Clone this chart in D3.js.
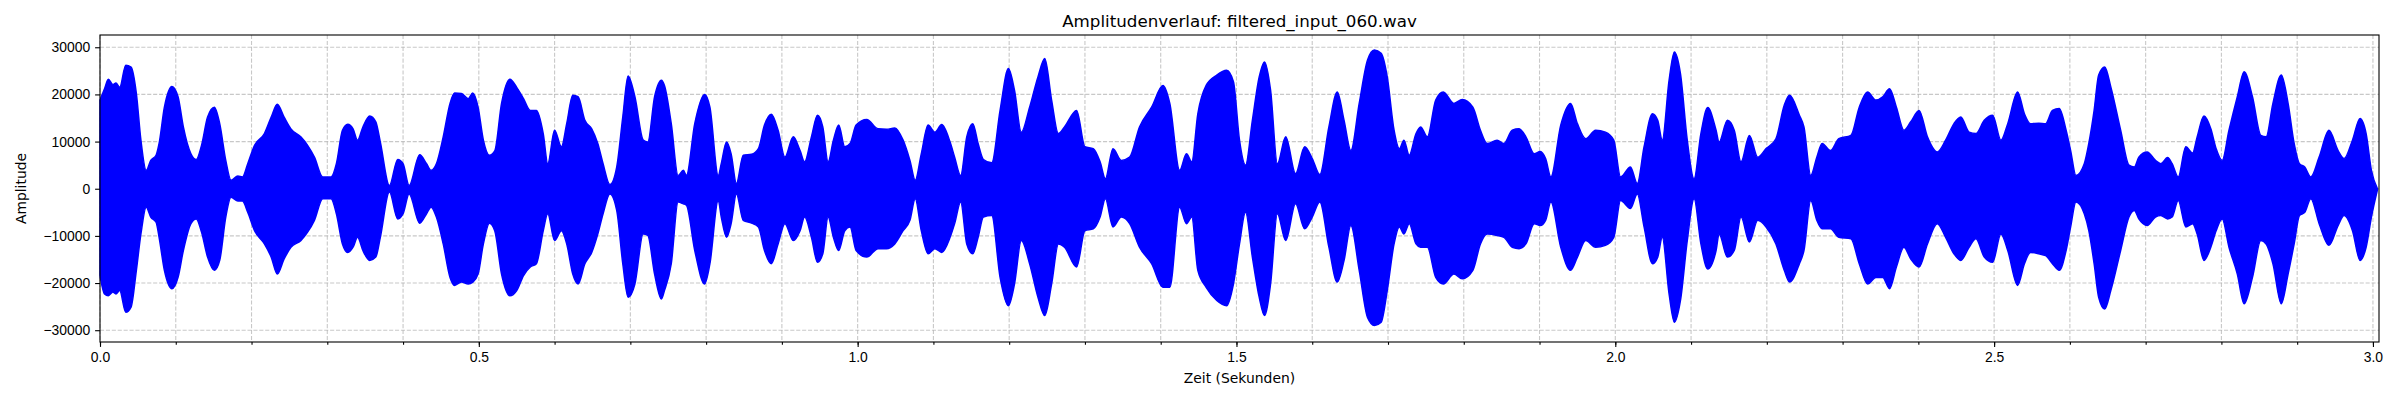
<!DOCTYPE html>
<html>
<head>
<meta charset="utf-8">
<script src="https://cdn.jsdelivr.net/npm/d3@7"></script>
<style>
  html, body { margin: 0; padding: 0; background: #fff; }
  svg { display: block; font-family: "DejaVu Sans", sans-serif; }
  .tick text { fill: #000; font-size: 13.9px; }
  .tick line, .domain { stroke: #000; stroke-width: 1.1px; }
</style>
</head>
<body>
<div id="chart"></div>
<script>
// envelope of the waveform (time in s, amplitude)
const timeSec = [
  0.000, 0.006, 0.011, 0.017, 0.021, 0.026, 0.034, 0.041, 0.048, 0.054, 0.061, 0.067, 0.074, 0.078, 0.085, 0.095, 0.103, 0.110, 0.120, 0.127, 0.134, 0.142, 0.151, 0.158, 0.166, 0.173, 0.182, 0.188, 0.195, 0.204, 0.217, 0.226, 0.234, 0.243, 0.252, 0.265, 0.274, 0.283, 0.294, 0.305, 0.312, 0.320, 0.327, 0.334, 0.340, 0.347, 0.356, 0.364,
  0.370, 0.382, 0.393, 0.400, 0.408, 0.422, 0.431, 0.437, 0.444, 0.453, 0.462, 0.468, 0.477, 0.486, 0.492, 0.499, 0.506, 0.514, 0.521, 0.530, 0.541, 0.550, 0.559, 0.568, 0.576, 0.585, 0.591, 0.600, 0.609, 0.616, 0.624, 0.631, 0.640, 0.649, 0.657, 0.664, 0.673, 0.682, 0.690, 0.697, 0.706, 0.717, 0.723, 0.732, 0.741,
  0.745, 0.754, 0.763, 0.770, 0.774, 0.785, 0.798, 0.805, 0.816, 0.820, 0.827, 0.833, 0.840, 0.849, 0.860, 0.869, 0.877, 0.886, 0.895, 0.904, 0.915, 0.924, 0.930, 0.939, 0.947, 0.954, 0.961, 0.968, 0.975, 0.983, 0.990, 0.998, 1.012, 1.027, 1.038, 1.049, 1.060, 1.069, 1.076, 1.084, 1.093, 1.102, 1.111,
  1.122, 1.128, 1.136, 1.144, 1.152, 1.159, 1.166, 1.177, 1.188, 1.199, 1.207, 1.216, 1.227, 1.238, 1.247, 1.256, 1.265, 1.273, 1.289, 1.300, 1.311, 1.320, 1.327, 1.337, 1.348, 1.359, 1.372, 1.388, 1.403, 1.412, 1.425, 1.434, 1.441, 1.449, 1.460, 1.474, 1.487, 1.496,
  1.504, 1.512, 1.521, 1.530, 1.537, 1.545, 1.554, 1.565, 1.578, 1.590, 1.600, 1.610, 1.622, 1.633, 1.642, 1.651, 1.662, 1.673, 1.682, 1.691, 1.699, 1.708, 1.715, 1.721, 1.728, 1.737, 1.743, 1.752, 1.763, 1.773, 1.787, 1.798, 1.812, 1.822, 1.831, 1.844, 1.853, 1.864, 1.873,
  1.882, 1.893, 1.901, 1.908, 1.915, 1.928, 1.941, 1.950, 1.961, 1.974, 1.987, 1.998, 2.007, 2.020, 2.029, 2.038, 2.049, 2.056, 2.062, 2.071, 2.078, 2.086, 2.095, 2.104, 2.113, 2.122, 2.133, 2.137, 2.148, 2.157, 2.166, 2.177, 2.188, 2.199, 2.212, 2.223, 2.230, 2.243,
  2.249, 2.258, 2.266, 2.273, 2.284, 2.295, 2.311, 2.322, 2.333, 2.344, 2.353, 2.362, 2.371, 2.381, 2.390, 2.401, 2.412, 2.425, 2.436, 2.447, 2.456, 2.467, 2.476, 2.487, 2.498, 2.509, 2.518, 2.531, 2.540, 2.548, 2.559, 2.568, 2.577, 2.586, 2.595, 2.601, 2.608, 2.619,
  2.625, 2.632, 2.638, 2.646, 2.654, 2.667, 2.678, 2.685, 2.691, 2.702, 2.713, 2.720, 2.729, 2.735, 2.743, 2.753, 2.762, 2.768, 2.777, 2.786, 2.793, 2.801, 2.810, 2.821, 2.830, 2.841, 2.852, 2.859, 2.868, 2.879, 2.888, 2.896, 2.903, 2.910, 2.918, 2.929, 2.942, 2.954, 2.962, 2.973, 2.983, 2.991, 2.998, 3.006
];
const upperAmp = [
  18800, 21200, 23200, 22100, 22400, 21500, 26200, 25800, 20200, 10300, 3900, 6000, 7100, 9600, 17300, 21700, 19500, 13100, 7400, 6200, 9200, 15200, 17300, 13800, 6000, 1800, 2700, 2500, 5300, 9200, 11700, 15200, 17900, 15200, 12700, 11000, 9200, 6700, 2500, 2500, 5300, 12400, 13700, 12700, 10300, 13100, 15400, 14200,
  9900, 700, 6200, 5300, 700, 7200, 5300, 3900, 5300, 11000, 18100, 20300, 20200, 19100, 20300, 17300, 10300, 7100, 8000, 18100, 23200, 21500, 19100, 16600, 16600, 11700, 5300, 12400, 8900, 13800, 19800, 19500, 14500, 12700, 9600, 5300, 900, 4600, 15200, 23900, 19500, 10300, 9900, 19500, 23000,
  21900, 13800, 2800, 3900, 2800, 13800, 20000, 17300, 2800, 5300, 9900, 7400, 1100, 7100, 7300, 8500, 13500, 15800, 12400, 6700, 11000, 8100, 5700, 11000, 15600, 13100, 5700, 10300, 13500, 8900, 9600, 13500, 14700, 12700, 12600, 12900, 10300, 6000, 1800, 7400, 13500, 12000, 13600,
  9900, 6700, 2800, 11000, 13800, 9600, 6200, 5500, 16600, 25500, 20900, 12000, 17300, 23700, 27600, 18800, 11700, 13100, 16600, 8900, 8500, 5700, 2100, 8500, 6000, 6700, 13100, 17300, 21900, 18100, 3900, 7400, 5700, 15900, 21900, 24100, 25100, 22700,
  10300, 5000, 14500, 23700, 26900, 20900, 5300, 11000, 3200, 8900, 6400, 3000, 13100, 20500, 14500, 8100, 18100, 27300, 29400, 28700, 23700, 12400, 8500, 10300, 7100, 11700, 13100, 11000, 18800, 20500, 18100, 18900, 17300, 12400, 9600, 10300, 9600, 12400, 12700,
  11000, 7400, 7900, 6400, 2500, 13500, 18100, 13800, 10600, 12400, 12000, 10300, 2500, 4600, 1100, 8900, 15900, 14500, 10300, 23000, 29000, 24400, 10300, 2100, 11700, 17200, 12400, 9900, 14500, 12400, 5700, 11300, 6700, 8500, 10600, 17700, 19800, 15600,
  13100, 2800, 6700, 9600, 8100, 10600, 11300, 17300, 20500, 18800, 19500, 21200, 17300, 12400, 14200, 16600, 11000, 7800, 10300, 13800, 15200, 12000, 11700, 14500, 15600, 10300, 13800, 20500, 15900, 13800, 13900, 13800, 16600, 17000, 12400, 8100, 2800, 5300,
  9600, 16600, 24100, 25800, 21600, 12400, 5000, 4600, 6700, 7800, 6000, 5300, 6600, 5300, 2500, 8900, 7600, 11000, 15400, 12700, 8500, 6000, 12400, 19500, 24800, 19500, 11300, 11000, 18100, 24100, 18100, 9600, 5300, 4600, 2500, 6700, 12400, 8100, 6400, 10300, 14900, 11700, 3900, 0
];
const lowerAmp = [
  -18400, -22300, -22700, -21900, -22300, -21600, -26200, -25100, -17300, -9600, -3900, -6000, -7100, -10300, -17300, -21200, -18800, -13100, -7400, -6400, -9200, -14500, -17300, -15200, -6000, -1800, -2600, -2600, -5000, -8900, -11700, -14500, -18100, -14900, -12400, -11000, -9200, -6700, -2100, -2100, -5300, -11700, -13500, -12400, -10300, -13100, -15200, -14500,
  -10300, -700, -6400, -5300, -1100, -7300, -5300, -3900, -6000, -11700, -18800, -20500, -19800, -20200, -19800, -18100, -11700, -7300, -8900, -18100, -22700, -21600, -18400, -16600, -15900, -8900, -5300, -11000, -8900, -11700, -18100, -20200, -15900, -13500, -9600, -5300, -1100, -4600, -15900, -23000, -20200, -9600, -9900, -18100, -23400,
  -21600, -15900, -2800, -3200, -3500, -13100, -20200, -15900, -2500, -6000, -10300, -7400, -1100, -6700, -7300, -8100, -13100, -15900, -11700, -7400, -11000, -8900, -6000, -10300, -15600, -13800, -6000, -10300, -13100, -8900, -8100, -13100, -14500, -12700, -12700, -11700, -8900, -6700, -2100, -8900, -13800, -12700, -13500,
  -10300, -7400, -2800, -11700, -13800, -10300, -6000, -5700, -18800, -24800, -20200, -11000, -15900, -23000, -26900, -20200, -11700, -12400, -16600, -8900, -8500, -6000, -2100, -8100, -6000, -7400, -12400, -15900, -20900, -20900, -3900, -7400, -6000, -17300, -20900, -23700, -24800, -20200,
  -11700, -5000, -14500, -23000, -26900, -20200, -5300, -11000, -3200, -8500, -6000, -2800, -12400, -19800, -15200, -7800, -17300, -27300, -29000, -28300, -21600, -11700, -8100, -9600, -7400, -11700, -12400, -12400, -18800, -20200, -18100, -19100, -17300, -11700, -9600, -9900, -10300, -12400, -12700,
  -11700, -7400, -7800, -6700, -2800, -12400, -17300, -14500, -11000, -12400, -12000, -10300, -2500, -4200, -1100, -8100, -15900, -14500, -10300, -22300, -28300, -23700, -11000, -2100, -11700, -17000, -13100, -9600, -14500, -13100, -6000, -11300, -6700, -8100, -11700, -17300, -19800, -15900,
  -13100, -2500, -6700, -8500, -8500, -10300, -10600, -15900, -20200, -18800, -18800, -21200, -16600, -12400, -14900, -16600, -11700, -7400, -10300, -13800, -15200, -12400, -10600, -14500, -15600, -9600, -13100, -20500, -15900, -13500, -13800, -14200, -15900, -17300, -13100, -8100, -2800, -5300,
  -8900, -15900, -23000, -25500, -21600, -13100, -6000, -4600, -6400, -7800, -6000, -5700, -6400, -6000, -2500, -8100, -7400, -9600, -15200, -12400, -8900, -6400, -12400, -18100, -24400, -18800, -11000, -11700, -15900, -24400, -18100, -11700, -5700, -5000, -2100, -7400, -12000, -7800, -5700, -8900, -15200, -12400, -6000, -200
];

const xDomain = [0, 3.008];
const yDomain = [-32500, 32600];
const xMajorTicks = [0, 0.5, 1.0, 1.5, 2.0, 2.5, 3.0];
const xMinorTicks = d3.range(0, 31).map(i => i / 10);
const yTicks = [-30000, -20000, -10000, 0, 10000, 20000, 30000];

const titleText = "Amplitudenverlauf: filtered_input_060.wav";
const xLabelText = "Zeit (Sekunden)";
const yLabelText = "Amplitude";

const W = 2400, H = 400;
const margin = { top: 35, right: 21, bottom: 58, left: 100 };
const width = W - margin.left - margin.right;
const height = H - margin.top - margin.bottom;

const svg = d3.select("#chart").append("svg")
    .attr("width", W)
    .attr("height", H);

const g = svg.append("g")
    .attr("transform", `translate(${margin.left},${margin.top})`);

const x = d3.scaleLinear().domain(xDomain).range([0, width]);
const y = d3.scaleLinear().domain(yDomain).range([height, 0]);

// grid (major + minor on x, major on y)
const grid = g.append("g")
    .attr("stroke", "#b0b0b0")
    .attr("stroke-opacity", 0.7)
    .attr("stroke-width", 1.1)
    .attr("stroke-dasharray", "4.1,1.8");

grid.selectAll(".vgrid").data(xMinorTicks).join("line")
    .attr("x1", d => x(d)).attr("x2", d => x(d))
    .attr("y1", 0).attr("y2", height);

grid.selectAll(".hgrid").data(yTicks).join("line")
    .attr("x1", 0).attr("x2", width)
    .attr("y1", d => y(d)).attr("y2", d => y(d));

// waveform envelope
const env = timeSec.map((t, i) => ({ t, hi: upperAmp[i], lo: lowerAmp[i] }));
if (upperAmp.length !== timeSec.length || lowerAmp.length !== timeSec.length) {
    console.error("length mismatch", timeSec.length, upperAmp.length, lowerAmp.length);
}

const area = d3.area()
    .curve(d3.curveMonotoneX)
    .x(d => x(d.t))
    .y0(d => y(d.lo))
    .y1(d => y(d.hi));

g.append("path")
    .datum(env)
    .attr("d", area)
    .attr("fill", "#0000ff")
    .attr("stroke", "#0000ff")
    .attr("stroke-width", 1.5)
    .attr("stroke-linejoin", "round");

// axes
g.append("g")
    .attr("transform", `translate(0,${height})`)
    .call(d3.axisBottom(x).tickValues(xMinorTicks).tickSize(2.8).tickFormat(""))
    .call(a => a.select(".domain").remove());

g.append("g")
    .attr("transform", `translate(0,${height})`)
    .call(d3.axisBottom(x).tickValues(xMajorTicks).tickSize(4.9).tickPadding(4.9).tickFormat(d3.format(".1f")))
    .call(a => a.select(".domain").remove())
    .selectAll("text").attr("dy", "0.76em");

g.append("g")
    .call(d3.axisLeft(y).tickValues(yTicks).tickSize(4.9).tickPadding(4.9).tickFormat(d3.format("d")))
    .call(a => a.select(".domain").remove());

// frame
g.append("rect")
    .attr("width", width)
    .attr("height", height)
    .attr("fill", "none")
    .attr("stroke", "#000")
    .attr("stroke-width", 1.1);

// texts
svg.append("text")
    .attr("x", margin.left + width / 2)
    .attr("y", 26.7)
    .attr("text-anchor", "middle")
    .attr("font-size", "16.7px")
    .text(titleText);

svg.append("text")
    .attr("x", margin.left + width / 2)
    .attr("y", 383.3)
    .attr("text-anchor", "middle")
    .attr("font-size", "13.9px")
    .text(xLabelText);

svg.append("text")
    .attr("transform", `translate(26,${margin.top + height / 2}) rotate(-90)`)
    .attr("text-anchor", "middle")
    .attr("font-size", "13.9px")
    .text(yLabelText);
</script>
</body>
</html>
